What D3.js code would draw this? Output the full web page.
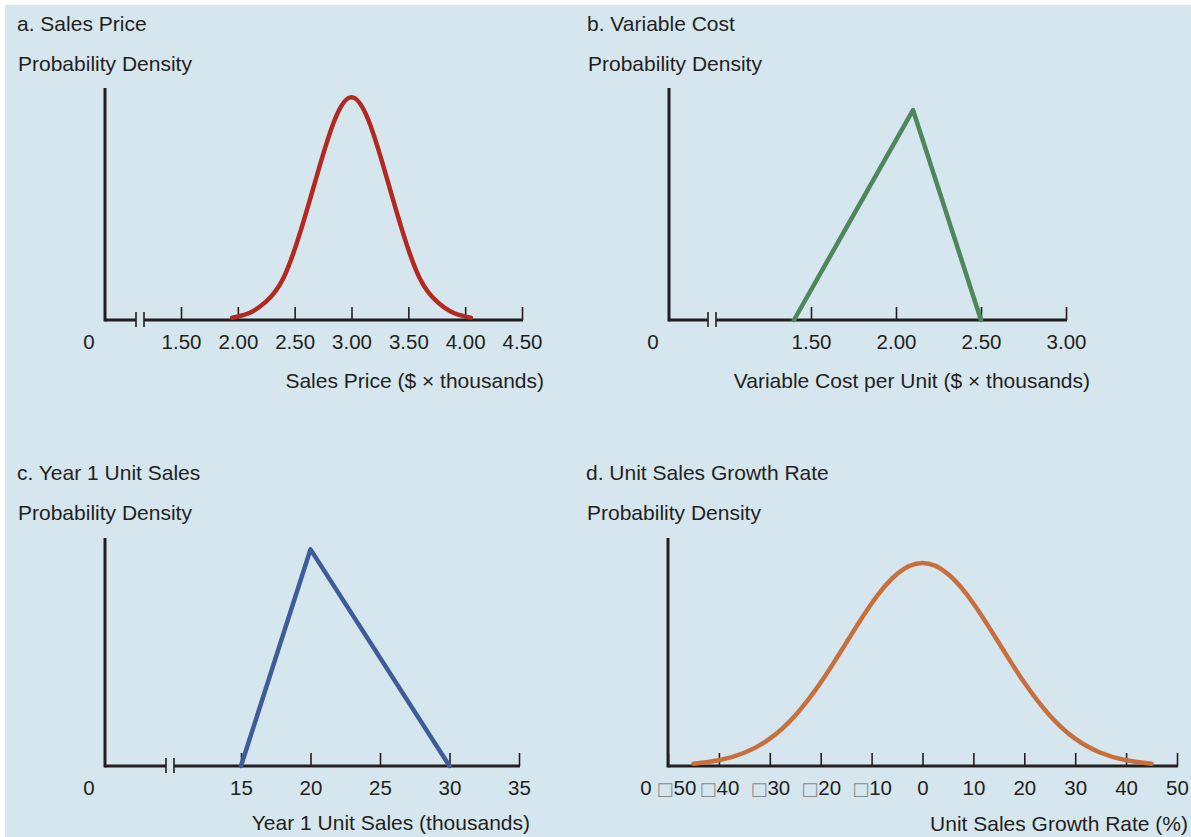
<!DOCTYPE html>
<html lang="en">
<head>
    <meta charset="UTF-8" />
    <title>Probability distributions</title>
    <script src="https://cdn.jsdelivr.net/npm/d3@7"></script>
    <style>
        body { margin: 0; background: #fff; }
        text { font-family: "Liberation Sans", Arial, sans-serif; fill: #231f20; }
    </style>
</head>
<body>
    <div id="chart"></div>
    <script>

        // a. sales price (normal curve)
        const priceX = [1.95, 2.10, 2.25, 2.40, 2.55, 2.70, 2.85, 3.00, 3.15, 3.30, 3.45, 3.60, 3.75, 3.90, 4.05];
        const priceDensity = [0.01, 0.03, 0.08, 0.18, 0.38, 0.63, 0.86, 0.96, 0.86, 0.63, 0.38, 0.18, 0.08, 0.03, 0.01];
        const priceTicks = [1.5, 2.0, 2.5, 3.0, 3.5, 4.0, 4.5];
        const priceLabels = ["1.50", "2.00", "2.50", "3.00", "3.50", "4.00", "4.50"];

        // b. variable cost (triangle)
        const costX = [1.40, 2.10, 2.50];
        const costDensity = [0, 0.905, 0];
        const costTicks = [1.5, 2.0, 2.5, 3.0];
        const costLabels = ["1.50", "2.00", "2.50", "3.00"];

        // c. year 1 unit sales (triangle)
        const unitsX = [15, 20, 30];
        const unitsDensity = [0, 0.95, 0];
        const unitsTicks = [15, 20, 25, 30, 35];
        const unitsLabels = ["15", "20", "25", "30", "35"];

        // d. unit sales growth rate (normal curve)
        const growthX = [-45, -40, -35, -30, -25, -20, -15, -10, -5, 0, 5, 10, 15, 20, 25, 30, 35, 40, 45];
        const growthDensity = [0.01, 0.025, 0.058, 0.12, 0.222, 0.366, 0.54, 0.713, 0.842, 0.89, 0.842, 0.713, 0.54, 0.366, 0.222, 0.12, 0.058, 0.025, 0.01];
        const growthTicks = [-50, -40, -30, -20, -10, 0, 10, 20, 30, 40, 50];
        const growthLabels = ["□50", "□40", "□30", "□20", "□10", "0", "10", "20", "30", "40", "50"];

        const W = 1191, H = 837;
        const svg = d3.select("#chart").append("svg")
            .attr("width", W)
            .attr("height", H);

        svg.append("rect")
            .attr("x", 5).attr("y", 5)
            .attr("width", W - 5).attr("height", H - 5)
            .attr("fill", "#d6e6ef");

        const panels = [
            {
                title: "a. Sales Price", tx: 17, ty: 31, xs: priceX, ys: priceDensity,
                ticks: priceTicks, labels: priceLabels, color: "#b3281f", smooth: true,
                ox: 105, base: 320, top: 88, brk: [136, 144], range: [181, 522], zeroX: 89,
                xLabel: "Sales Price ($ \u00d7 thousands)", xlx: 544, xly: 388
            },
            {
                title: "b. Variable Cost", tx: 587, ty: 31, xs: costX, ys: costDensity,
                ticks: costTicks, labels: costLabels, color: "#4e875a", smooth: false,
                ox: 669, base: 320, top: 88, brk: [708, 716], range: [811, 1066], zeroX: 653,
                xLabel: "Variable Cost per Unit ($ \u00d7 thousands)", xlx: 1090, xly: 388
            },
            {
                title: "c. Year 1 Unit Sales", tx: 17, ty: 480, xs: unitsX, ys: unitsDensity,
                ticks: unitsTicks, labels: unitsLabels, color: "#3e5d98", smooth: false,
                ox: 105, base: 766, top: 538, brk: [166, 174], range: [241, 519], zeroX: 89,
                xLabel: "Year 1 Unit Sales (thousands)", xlx: 530, xly: 830
            },
            {
                title: "d. Unit Sales Growth Rate", tx: 586, ty: 480, xs: growthX, ys: growthDensity,
                ticks: growthTicks, labels: growthLabels, color: "#c8703d", smooth: true,
                ox: 668, base: 766, top: 538, brk: null, range: [668, 1177], zeroX: 646,
                xLabel: "Unit Sales Growth Rate (%)", xlx: 1188, xly: 831
            }
        ];

        panels.forEach(p => {
            const g = svg.append("g");

            g.append("text")
                .attr("x", p.tx).attr("y", p.ty)
                .style("font-size", "21px")
                .text(p.title);
            g.append("text")
                .attr("x", p.tx + 1).attr("y", p.ty + 40)
                .style("font-size", "21px")
                .text("Probability Density");

            const x = d3.scaleLinear()
                .domain([p.ticks[0], p.ticks[p.ticks.length - 1]])
                .range(p.range);
            const y = d3.scaleLinear()
                .domain([0, 1])
                .range([p.base, p.top]);

            // x axis ticks (pointing up) and labels
            const ax = g.append("g")
                .attr("transform", `translate(0, ${p.base})`)
                .call(d3.axisBottom(x)
                    .tickValues(p.ticks)
                    .tickFormat((d, i) => p.labels[i])
                    .tickSizeInner(-13)
                    .tickSizeOuter(0)
                    .tickPadding(14));
            ax.select(".domain").remove();
            ax.selectAll(".tick line").attr("stroke", "#231f20").attr("stroke-width", 1.6);
            ax.selectAll(".tick text")
                .style("font-size", "20.5px")
                .attr("fill", "#231f20")
                .style("font-family", "'Liberation Sans', Arial, sans-serif");

            // minus signs shown as empty boxes like the original print
            ax.selectAll(".tick text").each(function (d, i) {
                const t = d3.select(this);
                const lab = p.labels[i];
                if (lab.startsWith("□")) {
                    t.text(null);
                    t.append("tspan")
                        .style("font-family", "'DejaVu Sans', sans-serif")
                        .style("font-size", "18px")
                        .attr("fill", "#8a8a8a")
                        .text("□");
                    t.append("tspan").text(lab.slice(1));
                }
                if (d === -50) t.attr("dx", 8);
            });

            // baseline with axis break
            const axisLine = g.append("g")
                .attr("stroke", "#231f20");
            if (p.brk) {
                axisLine.append("line")
                    .attr("x1", p.ox).attr("x2", p.brk[0])
                    .attr("y1", p.base).attr("y2", p.base)
                    .attr("stroke-width", 3);
                axisLine.append("line")
                    .attr("x1", p.brk[1]).attr("x2", p.range[1] + 1)
                    .attr("y1", p.base).attr("y2", p.base)
                    .attr("stroke-width", 3);
                p.brk.forEach(bx => {
                    axisLine.append("line")
                        .attr("x1", bx).attr("x2", bx)
                        .attr("y1", p.base - 8).attr("y2", p.base + 7)
                        .attr("stroke-width", 1.6);
                });
            } else {
                axisLine.append("line")
                    .attr("x1", p.ox).attr("x2", p.range[1] + 1)
                    .attr("y1", p.base).attr("y2", p.base)
                    .attr("stroke-width", 3);
            }
            // y axis
            axisLine.append("line")
                .attr("x1", p.ox).attr("x2", p.ox)
                .attr("y1", p.top).attr("y2", p.base + 1.5)
                .attr("stroke-width", 3);

            // origin label
            g.append("text")
                .attr("x", p.zeroX).attr("y", p.base + 29)
                .attr("text-anchor", "middle")
                .style("font-size", "20.5px")
                .text("0");

            // axis title
            g.append("text")
                .attr("x", p.xlx).attr("y", p.xly)
                .attr("text-anchor", "end")
                .style("font-size", "21px")
                .text(p.xLabel);

            // distribution curve
            const pts = p.xs.map((v, i) => [v, p.ys[i]]);
            const line = d3.line()
                .x(d => x(d[0]))
                .y(d => y(d[1]))
                .curve(p.smooth ? d3.curveNatural : d3.curveLinear);
            g.append("path")
                .datum(pts)
                .attr("d", line)
                .attr("fill", "none")
                .attr("stroke", p.color)
                .attr("stroke-width", 4.5)
                .attr("stroke-linejoin", "round")
                .attr("stroke-linecap", "round");
        });

    </script>
</body>
</html>
